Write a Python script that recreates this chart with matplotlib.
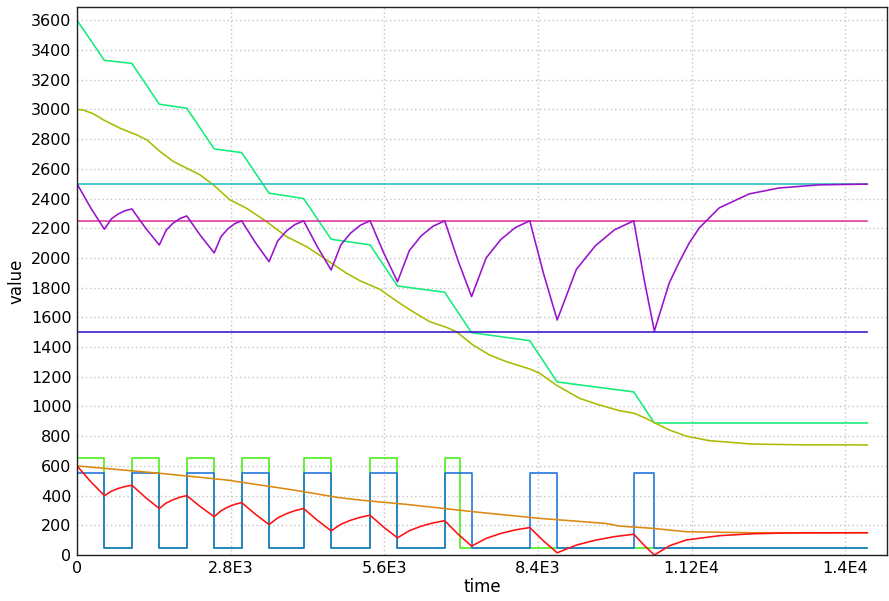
import numpy as np
import matplotlib
matplotlib.use("Agg")
import matplotlib.pyplot as plt

# pulse schedule (start / stop of each dose)
pulse_on = [0, 1000, 2000, 3000, 4130, 5340, 6700, 8250, 10145]
pulse_off = [500, 1500, 2500, 3500, 4630, 5840, 7190, 8750, 10520]
green_off = [500, 1500, 2500, 3500, 4630, 5840, 6985]
t_end = 14400

# step levels
blue_hi, blue_lo = 550, 50
lime_hi, lime_lo = 650, 50

# constant levels
cyan_level = 2500
magenta_level = 2250
indigo_level = 1500

# stock (piecewise linear)
stock_t = [0, 0, 500, 1000, 1500, 2000, 2500, 3000, 3500, 4130, 4630, 5340,
           5840, 6700, 7190, 8250, 8750, 10145, 10520, 14400]
stock_v = [0, 3600, 3330, 3310, 3035, 3008, 2734, 2709, 2436, 2400, 2126, 2088,
           1811, 1769, 1497, 1443, 1165, 1098, 889, 889]

# smoothed stock
smooth_t = [0, 120, 300, 484, 788, 1091, 1273, 1515, 1757, 2000, 2243, 2485, 2788,
            3092, 3456, 3820, 4184, 4548, 4911, 5153, 5517, 5881, 6123, 6427,
            6730, 6912, 7214, 7518, 7821, 8245, 8427, 8730, 9155, 9520, 9883,
            10156, 10368, 10520, 10792, 11096, 11520, 12304, 13200, 14400]
smooth_v = [3000, 2995, 2970, 2929, 2873, 2828, 2795, 2716, 2649, 2604, 2559, 2492, 2391,
            2334, 2244, 2143, 2076, 1987, 1897, 1847, 1789, 1695, 1638, 1571,
            1533, 1504, 1414, 1347, 1302, 1253, 1224, 1145, 1055, 1010, 972,
            954, 920, 891, 842, 801, 770, 747, 742, 741]

# level controlled by the pulses
purple_t = [0, 250, 500, 625, 750, 875, 1000, 1250, 1500, 1625, 1750, 1875,
            2000, 2250, 2500, 2625, 2750, 2875, 3000, 3250, 3500, 3658, 3815,
            3972, 4130, 4380, 4630, 4808, 4985, 5162, 5340, 5590, 5840, 6055,
            6270, 6485, 6700, 6945, 7190, 7455, 7720, 7985, 8250, 8500, 8750,
            9099, 9448, 9796, 10145, 10333, 10520, 10792, 10974, 11156, 11338,
            11702, 12248, 12794, 13522, 14400]
purple_v = [2500, 2337, 2193, 2263, 2296, 2318, 2330, 2201, 2087, 2187, 2234, 2265,
            2283, 2151, 2034, 2144, 2196, 2231, 2250, 2104, 1975, 2115, 2181,
            2225, 2250, 2075, 1919, 2088, 2167, 2220, 2250, 2033, 1840, 2049,
            2148, 2213, 2250, 1980, 1740, 2000, 2123, 2204, 2250, 1896, 1582,
            1923, 2083, 2190, 2250, 1857, 1508, 1832, 1973, 2101, 2202,
            2337, 2431, 2471, 2492, 2497]

# slow decay
orange_t = [0, 1515, 2727, 3940, 4780, 5150, 6000, 7210, 8420, 9630, 9883,
            10480, 11096, 12300, 14400]
orange_v = [600, 550, 505, 438, 386, 370, 341, 292, 247, 213, 195,
            180, 157, 150, 150]

# fast response
red_t = [0, 250, 500, 625, 750, 875, 1000, 1250, 1500, 1625, 1750, 1875,
         2000, 2250, 2500, 2625, 2750, 2875, 3000, 3250, 3500, 3658, 3815,
         3972, 4130, 4380, 4630, 4808, 4985, 5162, 5340, 5590, 5840, 6055,
         6270, 6485, 6700, 6945, 7190, 7455, 7720, 7985, 8250, 8500, 8750,
         9099, 9448, 9796, 10145, 10333, 10520, 10800, 11100, 11700, 12300,
         13000, 14400]
red_v = [600, 494, 400, 429, 448, 461, 470, 387, 313, 350, 372, 389,
         400, 325, 258, 298, 323, 341, 353, 275, 205, 250, 278,
         299, 313, 234, 163, 207, 234, 254, 268, 187, 116, 164,
         194, 216, 231, 140, 60, 112, 145, 169, 185, 95, 15,
         67, 100, 124, 140, 66, 0, 63, 101, 130, 143,
         149, 150]


def pulse_train(ons, offs, hi, lo, end):
    t, v = [], []
    for a, b in zip(ons, offs):
        t += [a, b]
        v += [hi, lo]
    t.append(end)
    v.append(lo)
    return t, v


blue_t, blue_v = pulse_train(pulse_on, pulse_off, blue_hi, blue_lo, t_end)
lime_t, lime_v = pulse_train(pulse_on[:len(green_off)], green_off, lime_hi, lime_lo, t_end)

fig = plt.figure(figsize=(8.89, 6.01), dpi=100)
ax = fig.add_axes([0.0866, 0.0765, 0.9112, 0.912])

lw = 1.15
ax.plot(stock_t, stock_v, color="#11ee77", lw=lw)
ax.plot(smooth_t, smooth_v, color="#aabb00", lw=lw)
ax.plot([0, 0, t_end], [0, cyan_level, cyan_level], color="#22bbbb", lw=lw)
ax.plot([0, 0, t_end], [0, magenta_level, magenta_level], color="#dd3399", lw=lw)
ax.plot(purple_t, purple_v, color="#9911cc", lw=lw)
ax.plot([0, 0, t_end], [0, indigo_level, indigo_level], color="#3311cc", lw=lw)
ax.plot(lime_t, lime_v, color="#44ee11", lw=lw, drawstyle="steps-post")
ax.plot(blue_t, blue_v, color="#1a6fdd", lw=lw, drawstyle="steps-post")
ax.plot(orange_t, orange_v, color="#dd8811", lw=lw)
ax.plot(red_t, red_v, color="#ff1111", lw=lw)

ax.set_xlim(0, 14760)
ax.set_ylim(0, 3690)

xt = [0, 2800, 5600, 8400, 11200, 14000]
ax.set_xticks(xt)
ax.set_xticklabels(["0", "2.8E3", "5.6E3", "8.4E3", "1.12E4", "1.4E4"])
ax.set_yticks(np.arange(0, 3601, 200))
ax.tick_params(length=0, labelsize=11.5, pad=4)

ax.grid(True, color="#c4c4c4", lw=1.0, linestyle=(0, (1, 2)))
ax.set_axisbelow(True)
for s in ax.spines.values():
    s.set_color("#222222")
    s.set_linewidth(1.0)

ax.set_xlabel("time", fontsize=12, labelpad=2)
ax.set_ylabel("value", fontsize=12, labelpad=4)

fig.savefig("out.png", dpi=100)
